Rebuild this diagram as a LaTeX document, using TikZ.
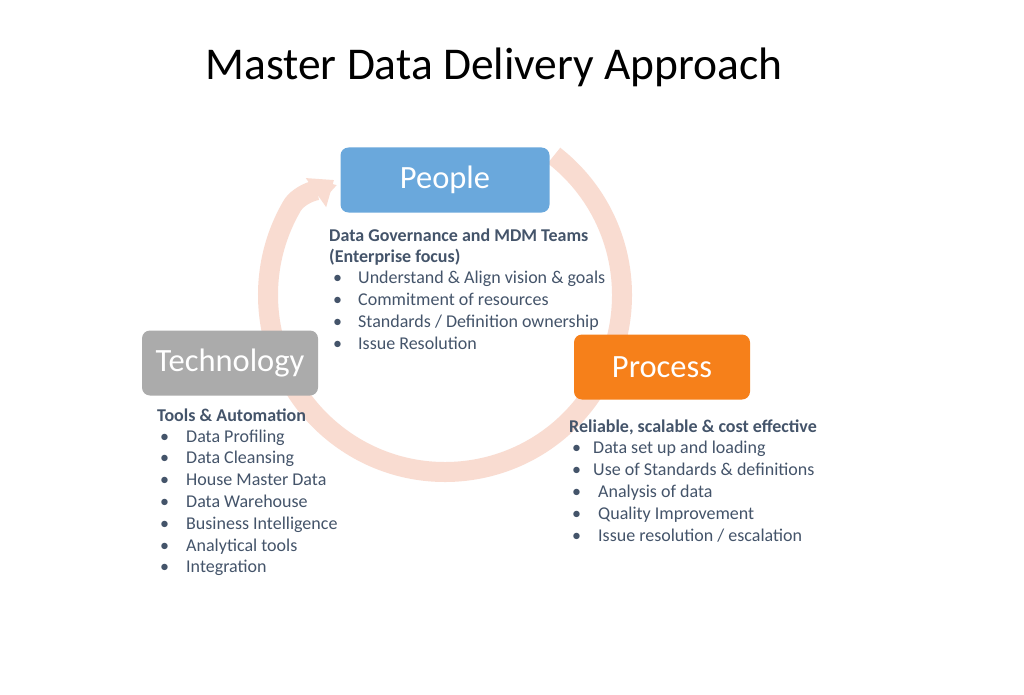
\documentclass[tikz,border=0pt]{standalone}
\usepackage{fontspec}
\setmainfont{Carlito}
\usetikzlibrary{arrows.meta}
\definecolor{peopleblue}{RGB}{106,168,220}
\definecolor{processorange}{RGB}{246,128,26}
\definecolor{techgray}{RGB}{171,171,171}
\definecolor{ringpink}{RGB}{249,220,209}
\definecolor{listtext}{RGB}{68,84,106}
\tikzset{
  box/.style={rounded corners=8pt, text=white, inner sep=0pt,
    minimum height=65pt, font=\fontsize{32.5}{38}\selectfont},
  head/.style={anchor=base west, inner sep=0pt, text=listtext,
    font=\fontsize{18}{22}\selectfont\bfseries},
  item/.style={anchor=base west, inner sep=0pt, text=listtext,
    font=\fontsize{18}{22}\selectfont},
  ringarrow/.style={draw=ringpink, line width=20pt,
    -{Triangle[length=22pt,width=34pt]}}
}
\begin{document}
\begin{tikzpicture}[x=1pt, y=-1pt]
\useasboundingbox (0,0) rectangle (1024,695);
\fill[white] (0,0) rectangle (1024,695);
\node (title) at (494,67) {\fontsize{45.5}{54}\selectfont Master Data Delivery Approach};

% the cycle behind the three boxes
\coordinate (hub) at (445,295);
\coordinate (ringtip) at (334,180);
\draw[ringarrow] (hub) ++(-52:177) arc[start angle=-52, end angle=210, radius=177]
  .. controls (299,193) and (324,187) .. (ringtip);

\node[box, fill=peopleblue, minimum width=209pt] (people) at (445,180) {People};
\node[box, fill=techgray, minimum width=176pt] (technology) at (230,363) {Technology};
\node[box, fill=processorange, minimum width=176pt] (process) at (662,367) {Process};

% people
\node[head] (peoplehead) at (329,241) {Data Governance and MDM Teams};
\node[head] (peoplefocus) at (329,262) {(Enterprise focus)};
\foreach \txt [count=\i] in {Understand \& Align vision \& goals, Commitment of resources,
    Standards / Definition ownership, Issue Resolution} {
  \node[item] (pdot\i) at (333,261+22*\i) {\textbullet};
  \node[item] (pitem\i) at (358,261+22*\i) {\txt};
}

% technology
\node[head] (techhead) at (157,421) {Tools \& Automation};
\foreach \txt [count=\i] in {Data Profiling, Data Cleansing, House Master Data, Data Warehouse,
    Business Intelligence, Analytical tools, Integration} {
  \node[item] (tdot\i) at (160,420.2+21.8*\i) {\textbullet};
  \node[item] (titem\i) at (186,420.2+21.8*\i) {\txt};
}

% process
\node[head] (prochead) at (569,432) {Reliable, scalable \& cost effective};
\foreach \x/\txt [count=\i] in {593/Data set up and loading, 593/Use of Standards \& definitions,
    598/Analysis of data, 598/Quality Improvement, 598/{Issue resolution / escalation}} {
  \node[item] (rdot\i) at (572,431+22*\i) {\textbullet};
  \node[item] (ritem\i) at (\x,431+22*\i) {\txt};
}
\end{tikzpicture}
\end{document}
